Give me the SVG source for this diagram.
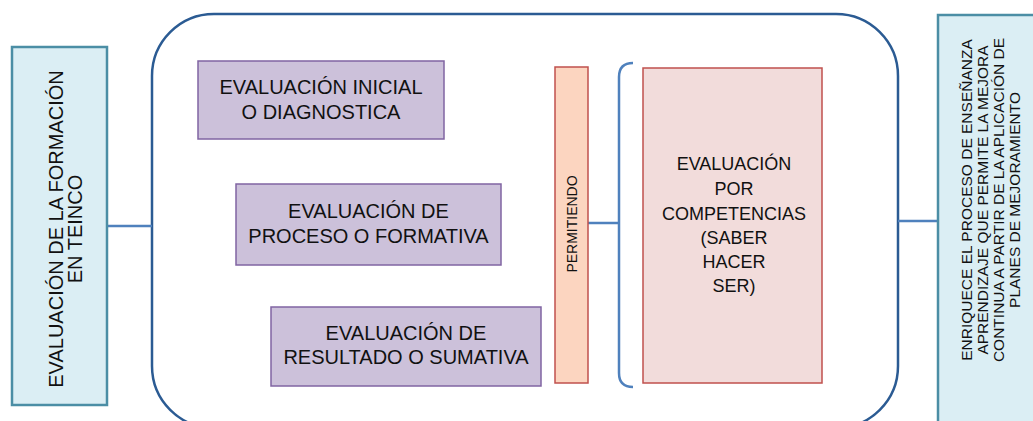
<svg xmlns="http://www.w3.org/2000/svg" width="1033" height="421" viewBox="0 0 1033 421">
<style>
text{font-family:"Liberation Sans",Arial,sans-serif;fill:#111;text-anchor:middle}
.blue{fill:#dbeef4;stroke:#4b8ea5;stroke-width:2.5}
.purple{fill:#ccc1da;stroke:#8064a2;stroke-width:1.5}
.peach{fill:#fcd5c0;stroke:#c0504d;stroke-width:1.5}
.pink{fill:#f2dcdb;stroke:#c0504d;stroke-width:1.5}
.con{fill:none;stroke:#4f81bd;stroke-width:2.5}
.t19{font-size:20px}
</style>
<rect width="1033" height="421" fill="#fff"/>
<g id="container">
<rect x="152" y="14" width="746" height="414" rx="62" ry="62" fill="none" stroke="#2b5b93" stroke-width="2.5"/>
</g>
<g id="connectors">
<line class="con" x1="107" y1="226" x2="152" y2="226"/>
<line class="con" x1="898" y1="221" x2="938" y2="221"/>
<line class="con" x1="588" y1="223" x2="619" y2="223"/>
<path class="con" d="M633,63 Q619,63 619,77 L619,373 Q619,387 633,387"/>
</g>
<g id="n_formacion">
<rect class="blue" x="12" y="47" width="95" height="358"/>
<text transform="translate(63,229) rotate(-90)" font-size="20">EVALUACIÓN DE LA FORMACIÓN</text>
<text transform="translate(82,229) rotate(-90)" font-size="20">EN TEINCO</text>
</g>
<g id="n_inicial">
<rect class="purple" x="198" y="61" width="246" height="78"/>
<text class="t19" x="321" y="94">EVALUACIÓN INICIAL</text>
<text class="t19" x="321" y="119">O DIAGNOSTICA</text>
</g>
<g id="n_proceso">
<rect class="purple" x="236" y="184" width="265" height="81"/>
<text class="t19" x="368.5" y="218">EVALUACIÓN DE</text>
<text class="t19" x="368.5" y="243">PROCESO O FORMATIVA</text>
</g>
<g id="n_resultado">
<rect class="purple" x="271" y="307" width="270" height="79"/>
<text class="t19" x="406" y="340">EVALUACIÓN DE</text>
<text class="t19" x="406" y="364">RESULTADO O SUMATIVA</text>
</g>
<g id="n_permitiendo">
<rect class="peach" x="555" y="67" width="33" height="316"/>
<text transform="translate(577,224) rotate(-90)" font-size="14">PERMITIENDO</text>
</g>
<g id="n_competencias">
<rect class="pink" x="643" y="68" width="179" height="315"/>
<g font-size="18">
<text x="734" y="170">EVALUACIÓN</text>
<text x="734" y="195">POR</text>
<text x="734" y="220">COMPETENCIAS</text>
<text x="734" y="244">(SABER</text>
<text x="734" y="268">HACER</text>
<text x="734" y="292">SER)</text>
</g>
</g>
<g id="n_enriquece">
<rect class="blue" x="938" y="15" width="110" height="420"/>
<g font-size="15.5">
<text transform="translate(972,200) rotate(-90)">ENRIQUECE EL PROCESO DE ENSEÑANZA</text>
<text transform="translate(988,200) rotate(-90)">APRENDIZAJE QUE PERMITE LA MEJORA</text>
<text transform="translate(1004,200) rotate(-90)">CONTINUA A PARTIR DE LA APLICACIÓN DE</text>
<text transform="translate(1020,200) rotate(-90)">PLANES DE MEJORAMIENTO</text>
</g>
</g>
</svg>
